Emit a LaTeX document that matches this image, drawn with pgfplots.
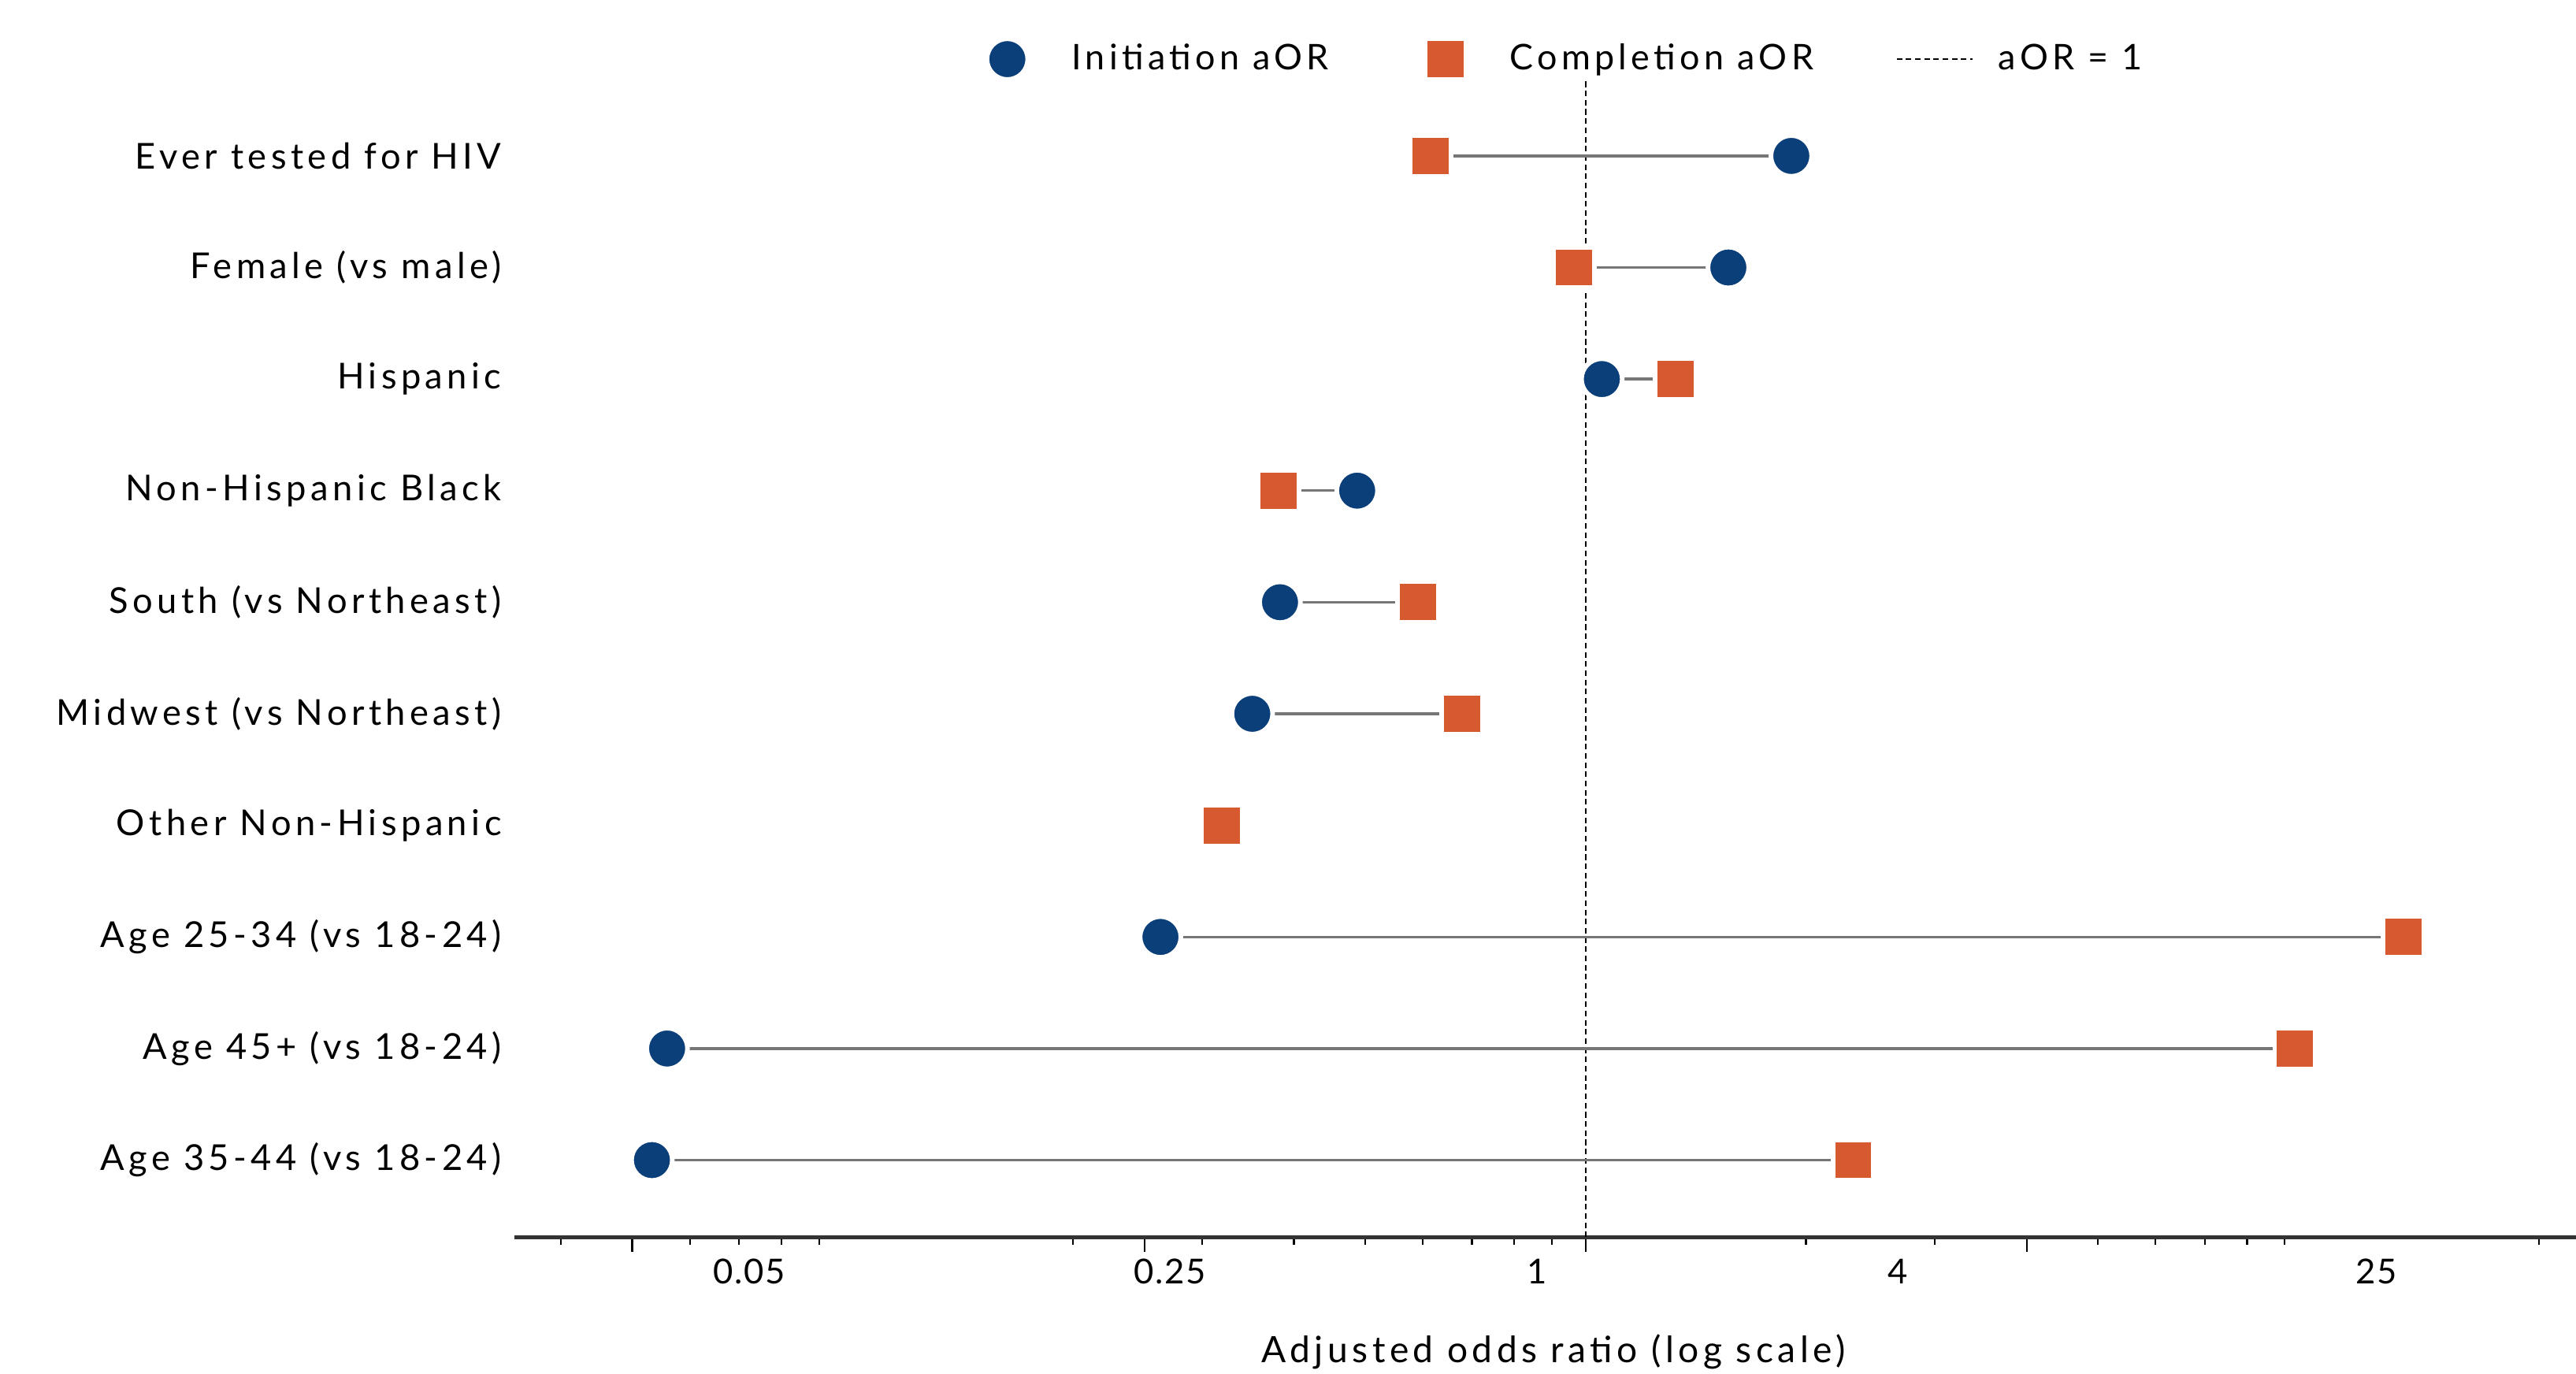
\documentclass[border=0pt]{standalone}
\usepackage{fontspec}
\setmainfont{Lato}[LetterSpace=12]
\newfontfamily\tickfont{Lato}[LetterSpace=4]
\usepackage{pgfplots}
\pgfplotsset{compat=1.18}
\usepackage{pgfplotstable}
\definecolor{navy}{RGB}{10,63,122}
\definecolor{rust}{RGB}{214,89,48}
\definecolor{conn}{RGB}{118,118,118}
\pgfplotsset{
  markleg/.style={legend image code/.code={\draw[##1] plot coordinates {(10.5bp,0bp)}; \path[draw=none,fill=none] (0bp,0bp) -- (28bp,0bp);}},
  dashleg/.style={legend image code/.code={\draw[##1] (0bp,0bp) -- (23bp,0bp); \path[draw=none,fill=none] (0bp,0bp) -- (29bp,0bp);}},
}
\pgfplotstableread{
y   init    comp
10  1.91    0.615
9   1.567   0.964
8   1.053   1.328
7   0.488   0.381
6   0.383   0.591
5   0.351   0.679
4   0.323   0.319
3   0.263   13.08
2   0.0558  9.30
1   0.0532  2.32
}\datatab
\begin{document}
\begin{tikzpicture}
\useasboundingbox (-156.5bp,-41.5bp) rectangle (627.5bp,376.5bp);
\begin{axis}[
  scale only axis,
  width=627.5bp, height=352bp,
  xmode=log,
  xmin=0.03451, xmax=22.49,
  ymin=0.309, ymax=10.676,
  axis x line*=bottom,
  axis y line*=left,
  y axis line style={draw=none},
  x axis line style={line width=1.2bp, draw=black!80, -},
  tick align=outside,
  major tick length=4.4bp,
  minor tick length=2.4bp,
  xtick={0.05,0.25,1,4},
  xticklabels={,,,},
  minor xtick={0.04,0.06,0.07,0.08,0.09,0.2,0.3,0.4,0.5,0.6,0.7,0.8,0.9,2,3,5,6,7,8,9,20},
  x tick style={line width=0.5bp, black},
  extra x ticks={0.0722,0.2709,0.8597,2.671,12.01},
  extra x tick labels={0.05,0.25,1,4,25},
  extra x tick style={major tick length=0pt, tick style={draw=none}},
  xticklabel style={font=\tickfont\fontsize{10.5}{12}\selectfont, inner sep=3.5bp, yshift=-3bp},
  ytick={1,2,3,4,5,6,7,8,9,10},
  yticklabels={Age 35-44 (vs 18-24),Age 45+ (vs 18-24),Age 25-34 (vs 18-24),Other Non-Hispanic,Midwest (vs Northeast),South (vs Northeast),Non-Hispanic Black,Hispanic,Female (vs male),Ever tested for HIV},
  y tick style={draw=none},
  yticklabel style={font=\fontsize{10.9}{12}\selectfont, anchor=east, xshift=4bp},
  /pgf/number format/assume math mode=true,
  xlabel={Adjusted odds ratio (log scale)},
  every axis x label/.style={at={(axis description cs:0.504,0)}, anchor=north, yshift=-26bp, font=\fontsize{11.1}{12}\selectfont},
  legend columns=3,
  legend style={at={(axis description cs:0.5076,1)}, anchor=center, yshift=6.5bp,
    draw=none, fill=none, font=\fontsize{10.8}{12}\selectfont,
    /tikz/every even column/.append style={column sep=23bp}},
  clip=false,
]
% reference line aOR = 1
\addplot[forget plot, black, line width=0.5bp, dash pattern=on 1.7bp off 1.1bp] coordinates {(1,0.309) (1,10.676)};
% connecting segments
\addplot[forget plot, conn, line width=0.8bp] coordinates {(1.91,10) (0.615,10)};
\addplot[forget plot, conn, line width=0.8bp] coordinates {(1.567,9) (0.964,9)};
\addplot[forget plot, conn, line width=0.8bp] coordinates {(1.053,8) (1.328,8)};
\addplot[forget plot, conn, line width=0.8bp] coordinates {(0.488,7) (0.381,7)};
\addplot[forget plot, conn, line width=0.8bp] coordinates {(0.383,6) (0.591,6)};
\addplot[forget plot, conn, line width=0.8bp] coordinates {(0.351,5) (0.679,5)};
\addplot[forget plot, conn, line width=0.8bp] coordinates {(0.323,4) (0.319,4)};
\addplot[forget plot, conn, line width=0.8bp] coordinates {(0.263,3) (13.08,3)};
\addplot[forget plot, conn, line width=0.8bp] coordinates {(0.0558,2) (9.30,2)};
\addplot[forget plot, conn, line width=0.8bp] coordinates {(0.0532,1) (2.32,1)};
% markers
\addplot[only marks, mark=*, mark size=6.2bp, mark options={fill=navy, draw=white, line width=1.4bp}, markleg]
  table[x=init, y=y] {\datatab};
\addlegendentry{Initiation aOR}
\addplot[only marks, mark=square*, mark size=6.2bp, mark options={fill=rust, draw=white, line width=1.4bp}, markleg]
  table[x=comp, y=y] {\datatab};
\addlegendentry{Completion aOR}
\addlegendimage{black, line width=0.5bp, dash pattern=on 1.7bp off 1.1bp, dashleg}
\addlegendentry{aOR = 1}
\end{axis}
\end{tikzpicture}
\end{document}
